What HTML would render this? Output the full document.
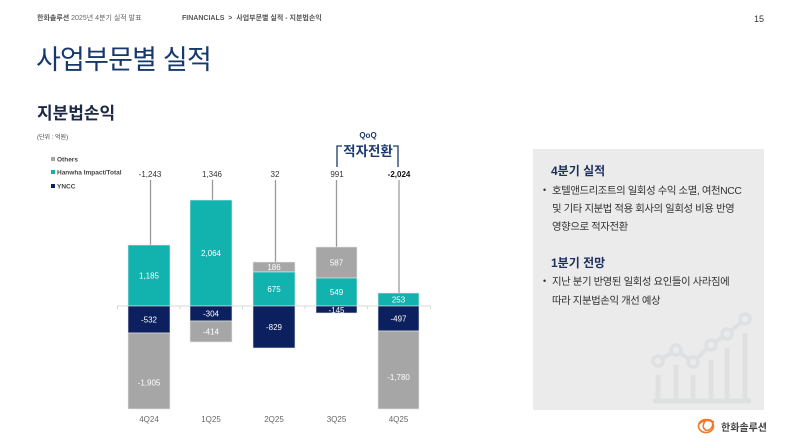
<!DOCTYPE html>
<html><head><meta charset="utf-8">
<style>
html,body{margin:0;padding:0;background:#fff;}
body{width:800px;height:447px;position:relative;overflow:hidden;font-family:"Liberation Sans","Noto Sans CJK KR",sans-serif;}
.a{position:absolute;white-space:nowrap;}
.b{position:absolute;left:543px;font-size:9px;color:#333;}
.t{position:absolute;left:552px;font-size:10.4px;color:#333;letter-spacing:-0.4px;white-space:nowrap;}
</style></head><body>
<div class="a" style="left:37px;top:13px;font-size:7px;color:#666;"><b style="color:#555">한화솔루션</b> 2025년 4분기 실적 발표</div>
<div class="a" style="left:182px;top:13px;font-size:7px;color:#555;font-weight:bold;">FINANCIALS &nbsp;&gt;&nbsp; 사업부문별 실적 - 지분법손익</div>
<div class="a" style="left:754px;top:14px;font-size:9px;color:#333;">15</div>
<div class="a" style="left:36px;top:38px;font-size:27px;color:#17386b;letter-spacing:-0.8px;">사업부문별 실적</div>
<div class="a" style="left:37px;top:99px;font-size:17px;color:#1c2a45;font-weight:bold;">지분법손익</div>
<div class="a" style="left:37px;top:132px;font-size:6px;color:#444;">(단위 : 억원)</div>

<svg class="a" style="left:0;top:0" width="800" height="447" viewBox="0 0 800 447" font-family="Liberation Sans, Noto Sans CJK KR, sans-serif">
  <rect x="51" y="157" width="4" height="4" fill="#a6a6a6"/>
  <text x="57" y="161.5" font-size="6.5" fill="#444" font-weight="bold">Others</text>
  <rect x="51" y="170" width="4" height="4" fill="#12b3ae"/>
  <text x="57" y="174.5" font-size="6.5" fill="#444" font-weight="bold">Hanwha Impact/Total</text>
  <rect x="51" y="184" width="4" height="4" fill="#0c1f5e"/>
  <text x="57" y="188.5" font-size="6.5" fill="#444" font-weight="bold">YNCC</text>

  <line x1="117" y1="306" x2="431" y2="306" stroke="#d9d9d9" stroke-width="1"/>
  <g stroke="#d9d9d9" stroke-width="1">
    <line x1="117.5" y1="306" x2="117.5" y2="309"/>
    <line x1="180" y1="306" x2="180" y2="309"/>
    <line x1="242.5" y1="306" x2="242.5" y2="309"/>
    <line x1="305" y1="306" x2="305" y2="309"/>
    <line x1="367.5" y1="306" x2="367.5" y2="309"/>
    <line x1="430.5" y1="306" x2="430.5" y2="309"/>
  </g>

  <g stroke="#9a9a9a" stroke-width="1.3">
    <line x1="150.5" y1="180" x2="150.5" y2="245"/>
    <line x1="212.5" y1="180" x2="212.5" y2="200"/>
    <line x1="275.5" y1="180" x2="275.5" y2="262"/>
    <line x1="336.5" y1="180" x2="336.5" y2="247"/>
    <line x1="399" y1="180" x2="399" y2="293"/>
  </g>

  <g stroke="#e8e8e8" stroke-width="0.6">
    <rect x="128" y="245" width="42" height="61" fill="#12b3ae"/>
    <rect x="128" y="306" width="42" height="27" fill="#0c1f5e"/>
    <rect x="128" y="333" width="42" height="76" fill="#a6a6a6"/>
    <rect x="190" y="200" width="42" height="106" fill="#12b3ae"/>
    <rect x="190" y="306" width="42" height="15" fill="#0c1f5e"/>
    <rect x="190" y="321" width="42" height="21" fill="#a6a6a6"/>
    <rect x="253" y="262" width="42" height="10" fill="#a6a6a6"/>
    <rect x="253" y="272" width="42" height="34" fill="#12b3ae"/>
    <rect x="253" y="306" width="42" height="42" fill="#0c1f5e"/>
    <rect x="316" y="247" width="41" height="31" fill="#a6a6a6"/>
    <rect x="316" y="278" width="41" height="28" fill="#12b3ae"/>
    <rect x="316" y="306" width="41" height="7" fill="#0c1f5e"/>
    <rect x="378" y="293" width="41" height="13" fill="#12b3ae"/>
    <rect x="378" y="306" width="41" height="25" fill="#0c1f5e"/>
    <rect x="378" y="331" width="41" height="78" fill="#a6a6a6"/>
  </g>

  <g font-size="8" fill="#fff" text-anchor="middle">
    <text x="149" y="278.5">1,185</text>
    <text x="149" y="322.5">-532</text>
    <text x="149" y="385.5">-1,905</text>
    <text x="211" y="256">2,064</text>
    <text x="211" y="316.5">-304</text>
    <text x="211" y="334.5">-414</text>
    <text x="274" y="270">186</text>
    <text x="274" y="292">675</text>
    <text x="274" y="330">-829</text>
    <text x="336.5" y="265.5">587</text>
    <text x="336.5" y="295">549</text>
    <text x="336.5" y="313">-145</text>
    <text x="398.5" y="302.5">253</text>
    <text x="398.5" y="321.5">-497</text>
    <text x="398.5" y="380">-1,780</text>
  </g>

  <g font-size="8" fill="#333" text-anchor="middle">
    <text x="150" y="177">-1,243</text>
    <text x="212" y="177">1,346</text>
    <text x="275" y="177">32</text>
    <text x="337" y="177">991</text>
    <text x="399" y="177" font-weight="bold" fill="#111">-2,024</text>
  </g>

  <g font-size="8" fill="#666" text-anchor="middle">
    <text x="149" y="422">4Q24</text>
    <text x="211" y="422">1Q25</text>
    <text x="274" y="422">2Q25</text>
    <text x="336.5" y="422">3Q25</text>
    <text x="398.5" y="422">4Q25</text>
  </g>

  <text x="368" y="138" font-size="8" fill="#1c3a6e" font-weight="bold" text-anchor="middle">QoQ</text>
  <text x="368" y="156" font-size="13.5" fill="#1c3a6e" font-weight="bold" text-anchor="middle">적자전환</text>
  <path d="M342,146 H337 V167" fill="none" stroke="#1c3a6e" stroke-width="1.3"/>
  <path d="M393,146 H398 V167" fill="none" stroke="#1c3a6e" stroke-width="1.3"/>

  <rect x="533" y="149" width="231" height="261" fill="#ebebeb"/>
  <g stroke="#dfe0e2" fill="none">
    <line x1="653" y1="401" x2="751" y2="401" stroke-width="5"/>
    <line x1="658" y1="375" x2="658" y2="401" stroke-width="5"/>
    <line x1="676" y1="365" x2="676" y2="401" stroke-width="5"/>
    <line x1="693" y1="375" x2="693" y2="401" stroke-width="5"/>
    <line x1="711" y1="360" x2="711" y2="401" stroke-width="5"/>
    <line x1="727" y1="348" x2="727" y2="401" stroke-width="5"/>
    <line x1="745" y1="333" x2="745" y2="401" stroke-width="5"/>
    <polyline points="658,361 676,350 693,362 711,345 727,334 745,319" stroke-width="4"/>
    <g stroke-width="3.5" fill="#ebebeb">
      <circle cx="658" cy="361" r="5"/>
      <circle cx="676" cy="350" r="5"/>
      <circle cx="693" cy="362" r="5"/>
      <circle cx="711" cy="345" r="5"/>
      <circle cx="727" cy="334" r="5"/>
      <circle cx="745" cy="319" r="5"/>
    </g>
  </g>

  <g fill="none" stroke="#f07a2a" stroke-width="1.6">
    <ellipse cx="706" cy="426" rx="7.5" ry="6.5"/>
    <ellipse cx="708" cy="425" rx="4.5" ry="5.5" transform="rotate(30 708 425)"/>
    <path d="M699,424 Q705,418 714,422"/>
  </g>
</svg>

<div class="a" style="left:551px;top:162px;font-size:12px;color:#1c2f5c;font-weight:bold;">4분기 실적</div>
<div class="b" style="top:185px;">•</div>
<div class="t" style="top:182px;">호텔앤드리조트의 일회성 수익 소멸, 여천NCC</div>
<div class="t" style="top:200px;">및 기타 지분법 적용 회사의 일회성 비용 반영</div>
<div class="t" style="top:218px;">영향으로 적자전환</div>
<div class="a" style="left:551px;top:254px;font-size:12px;color:#1c2f5c;font-weight:bold;">1분기 전망</div>
<div class="b" style="top:276px;">•</div>
<div class="t" style="top:273px;">지난 분기 반영된 일회성 요인들이 사라짐에</div>
<div class="t" style="top:292px;">따라 지분법손익 개선 예상</div>
<div class="a" style="left:721px;top:419px;font-size:10px;color:#444;font-weight:bold;">한화솔루션</div>
</body></html>
